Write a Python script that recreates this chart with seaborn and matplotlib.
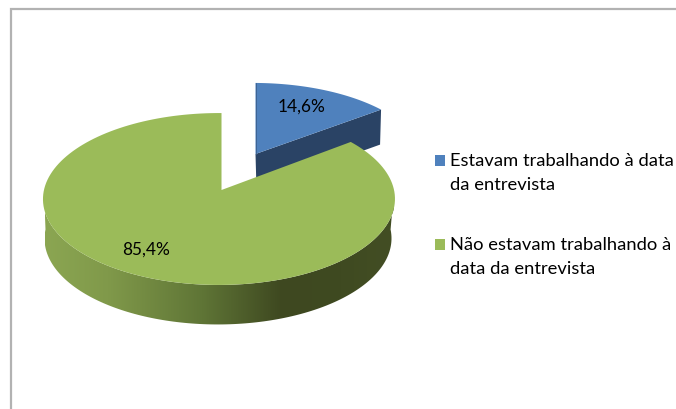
import numpy as np
import matplotlib
matplotlib.use("Agg")
import matplotlib.pyplot as plt
import seaborn as sns
from matplotlib.colors import LinearSegmentedColormap
from matplotlib.patches import Polygon
from matplotlib.path import Path

categories = ["Estavam trabalhando à data\nda entrevista",
              "Não estavam trabalhando à\ndata da entrevista"]
values = [14.6, 85.4]
colors = ["#4F81BD", "#9BBB59"]

sns.set_theme(style="white")
plt.rcParams["font.family"] = ["Lato", "DejaVu Sans"]
palette = sns.color_palette(colors)

fig = plt.figure(figsize=(6.76, 4.10), dpi=100)
ax = fig.add_axes([0, 0, 1, 1])

K, M = 0.1047, 0.0143


def project(theta_deg, ox, oy, rx, b):
    t = np.radians(np.asarray(theta_deg, dtype=float))
    x, y = np.cos(t), np.sin(t)
    w = 1 + K * y + M * x
    return np.column_stack([ox + rx * x / w, oy - b * y / w])


def arc(t1, t2, n=160):
    return np.linspace(t1, t2, n)


wedges, _, autotexts = ax.pie(
    values, colors=palette, startangle=90, counterclock=False, frame=True,
    autopct=lambda p: f"{p:.1f}%".replace(".", ","), textprops={"fontsize": 12.4, "color": "black"},
)
ax.set_aspect("auto")
ax.set_xlim(0, 676)
ax.set_ylim(410, 0)
ax.set_xticks([])
ax.set_yticks([])
for s in ax.spines.values():
    s.set_visible(False)

# slice geometry on the page: apex x, apex y, horizontal radius, vertical radius
top_geom = [(255.5, 155, 170, 78.5), (221.5, 191, 175, 85)]
side_drop = [35, 38]
for w, g in zip(wedges, top_geom):
    pts = project(arc(w.theta1, w.theta2), *g)
    verts = np.vstack([[g[0], g[1]], pts, [g[0], g[1]]])
    w._path = Path(verts, closed=True)
    w.set_linewidth(0)

wedges[0].set_zorder(2)
wedges[1].set_zorder(4)

# Blue cut face
b = wedges[0]
g = top_geom[0]
rim = project([b.theta1], *g)[0]
ax.add_patch(Polygon([[g[0], g[1]], rim, [rim[0] - 1, rim[1] + side_drop[0]],
                      [g[0] + 1, g[1] + side_drop[0]]],
                     closed=True, fc="#2A4365", ec="none", zorder=1))
ax.plot([g[0], g[0]], [84, g[1]], color="#3A5F8C", lw=0.6, zorder=3)

# Green outer wall with horizontal shading
g = top_geom[1]
upper = project(arc(180, 360), *g)
lower = project(arc(360, 180), 220.5, 230.5, 172.5, 85)
wall = Polygon(np.vstack([upper, lower]), closed=True, fc="none", ec="none", transform=ax.transData)
ax.add_patch(wall)
cmap = LinearSegmentedColormap.from_list("wall", [
    (0.00, "#8BA652"), (0.18, "#80994A"), (0.45, "#5F7536"),
    (0.68, "#3E4820"), (0.85, "#3F4A21"), (1.00, "#434E24")])
im = ax.imshow(np.linspace(0, 1, 256)[None, :], cmap=cmap, aspect="auto",
               extent=(45, 394, 330, 190), zorder=3, interpolation="bilinear")
im.set_clip_path(wall)
ax.set_xlim(0, 676)
ax.set_ylim(410, 0)

# Value labels
for t, pos in zip(autotexts, [(302, 107), (146, 250)]):
    t.set_position(pos)
    t.set_ha("center")
    t.set_va("center")
    t.set_zorder(6)

# Chart frame (left and top edges)
ax.plot([10.5, 10.5, 676], [410, 10, 10], color="#B2B2B2", lw=1.6, zorder=5, solid_joinstyle="miter")

leg = ax.legend(
    wedges, categories, frameon=False, fontsize=13.2, loc="upper left",
    bbox_to_anchor=(0.643, 0.628), handlelength=0.55, handleheight=0.55,
    handletextpad=0.3, labelspacing=2.38, borderpad=0, borderaxespad=0,
)
for txt in leg.get_texts():
    txt.set_color("black")
    txt.set_linespacing(1.65)
for h in leg.legend_handles:
    h.set_y(h.get_y() + 8.3)

fig.savefig("out.png", dpi=100)
